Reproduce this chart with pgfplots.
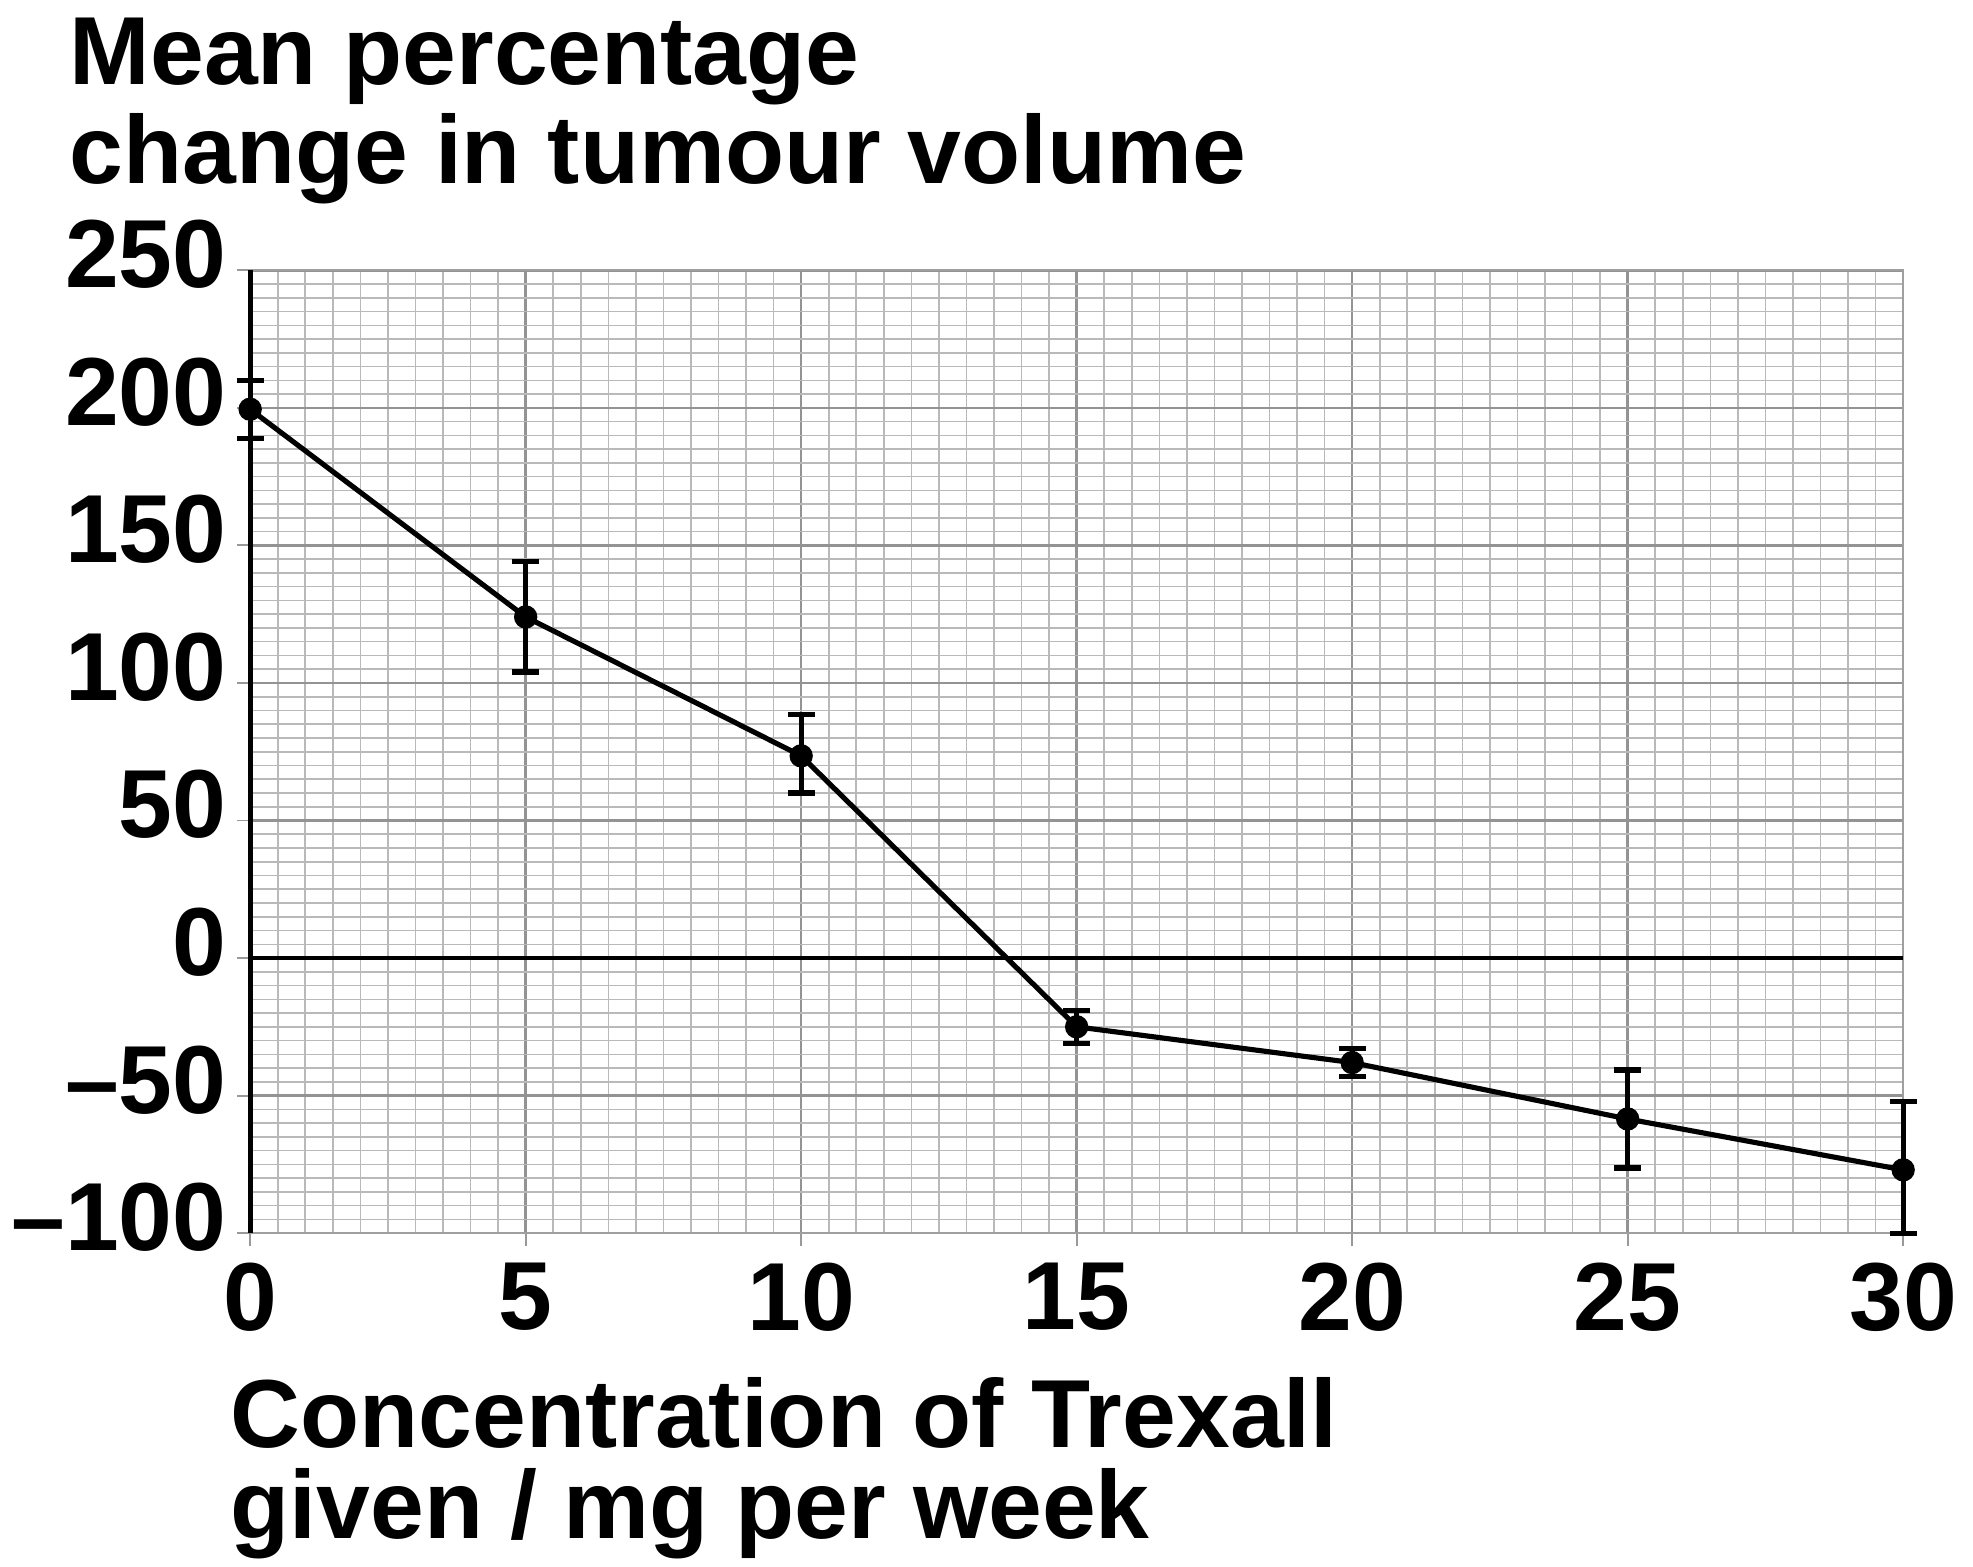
\documentclass[border=0pt]{standalone}
\usepackage{pgfplots}
\pgfplotsset{compat=1.18}
\usepackage{fontspec}
\setmainfont{Liberation Sans}
\newcommand\bigbf{\fontsize{24.5}{29}\selectfont\bfseries}
\begin{document}
\begin{tikzpicture}
\begin{axis}[
  name=ax,
  at={(0,0)}, anchor=south west,
  scale only axis,
  width=418.9pt, height=244pt,
  xmin=0, xmax=30, ymin=-100, ymax=250,
  xtick={0,5,...,30}, ytick={-100,-50,...,250},
  xticklabels={0,5,10,15,20,25,30},
  yticklabels={–100,–50,0,50,100,150,200,250},
  minor x tick num=9, minor y tick num=9,
  grid=both,
  major grid style={draw=gray!85, line width=0.6pt},
  minor grid style={draw=gray!55, line width=0.4pt},
  axis line style={draw=gray!75, line width=0.5pt},
  tick align=outside,
  major tick length=3.3pt, minor tick length=0pt,
  tick style={draw=gray!80, line width=0.5pt},
  xtick pos=left, ytick pos=left,
  ticklabel style={font=\bigbf, inner sep=0pt},
  xticklabel style={yshift=-4pt},
  yticklabel style={xshift=-2.5pt, yshift=4pt},
  clip=false,
]
\addplot[black, line width=1.2pt, forget plot] coordinates {(0,-100) (0,250)};
\addplot[black, line width=1.0pt, forget plot] coordinates {(0,0) (30,0)};
\addplot[black, line width=1.3pt, mark=*, mark size=2.3pt,
  error bars/.cd, y dir=both, y explicit,
  error bar style={line width=1.3pt},
  error mark options={rotate=90, mark size=3.4pt, line width=1.3pt}]
coordinates {
(0,199.5) +- (0,10.5)
(5,124) +- (0,20)
(10,73.5) += (0,15) -= (0,13.5)
(15,-25) +- (0,6)
(20,-38) +- (0,5)
(25,-58.5) +- (0,17.8)
(30,-77) += (0,24.8) -= (0,23)
};
\end{axis}
\node[anchor=base west, inner sep=0pt, font=\bigbf] at ([shift={(-45.9pt,291.1pt)}]ax.south west) {Mean percentage};
\node[anchor=base west, inner sep=0pt, font=\bigbf] at ([shift={(-45.9pt,265.9pt)}]ax.south west) {change in tumour volume};
\node[anchor=base west, inner sep=0pt, font=\bigbf] at ([shift={(-5.1pt,-54.2pt)}]ax.south west) {Concentration of Trexall};
\node[anchor=base west, inner sep=0pt, font=\bigbf] at ([shift={(-5.1pt,-77.3pt)}]ax.south west) {given / mg per week};
\pgfresetboundingbox
\path[use as bounding box] ([shift={(-63.4pt,-84.4pt)}]ax.south west) rectangle ++(500pt,396.9pt);
\end{tikzpicture}
\end{document}
